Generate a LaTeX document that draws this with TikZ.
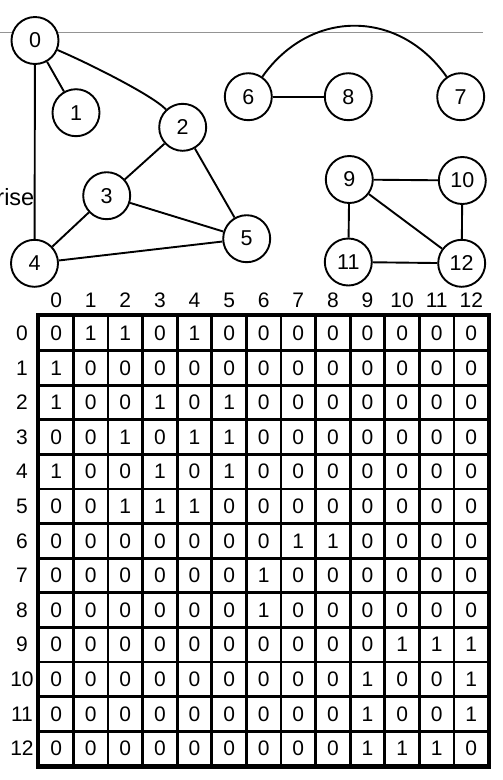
\documentclass[tikz,border=0pt]{standalone}
\usepackage{fontspec}
\setmainfont{Liberation Sans}
\begin{document}
\begin{tikzpicture}[x=1pt,y=-1pt,
  vertex/.style={circle,draw,line width=1.9pt,fill=white,minimum size=47pt,inner sep=0pt,font=\fontsize{21.5}{24}\selectfont},
  edge/.style={line width=1.9pt},
  cell/.style={draw,line width=2.7pt,minimum size=34.6pt,inner sep=0pt,font=\fontsize{21}{24}\selectfont},
  idx/.style={inner sep=0pt,font=\fontsize{21}{24}\selectfont},
  rule/.style={line width=1.1pt,color=black!42}]
\useasboundingbox (0,0) rectangle (503,780);
\fill[white] (0,0) rectangle (503,780);

% thin rule across the top
\coordinate (rulestart) at (0,32.3);
\coordinate (ruleend) at (482.7,32.3);
\draw[rule] (rulestart) -- (ruleend);

% leftover word at the left margin
\node[anchor=base east,inner sep=0pt,font=\fontsize{23.5}{26}\selectfont] (word) at (34.5,205.5) {rise};

% first component
\node[vertex] (n0) at (35,40.5) {0};
\node[vertex] (n1) at (76,112.7) {1};
\node[vertex] (n2) at (182.7,127.3) {2};
\node[vertex] (n3) at (106.7,195.7) {3};
\node[vertex] (n4) at (34.5,263.3) {4};
\node[vertex] (n5) at (246.7,238.7) {5};
% second component
\node[vertex] (n6) at (248.3,96.7) {6};
\node[vertex] (n8) at (348.3,96.7) {8};
\node[vertex] (n7) at (460.7,96.7) {7};
% third component
\node[vertex] (n9) at (349.3,179.5) {9};
\node[vertex] (n10) at (462.3,180.5) {10};
\node[vertex] (n11) at (348.3,262) {11};
\node[vertex] (n12) at (461.7,263.3) {12};

\draw[edge] (n0) -- (n1);
\draw[edge] (n0) -- (n4);
\draw[edge] (n0) .. controls +(52,22) and +(-30,-32) .. (n2);
\draw[edge] (n2) -- (n3);
\draw[edge] (n2) -- (n5);
\draw[edge] (n3) -- (n4);
\draw[edge] (n3) -- (n5);
\draw[edge] (n4) -- (n5);
\draw[edge] (n6) -- (n8);
\draw[edge] (n6) .. controls +(62,-88) and +(-62,-88) .. (n7);
\draw[edge] (n9) -- (n10);
\draw[edge] (n9) -- (n11);
\draw[edge] (n9) -- (n12);
\draw[edge] (n10) -- (n12);
\draw[edge] (n11) -- (n12);

% adjacency matrix
\foreach \c in {0,...,12}
  \node[idx] (h-\c) at ({38.8+34.6*(\c+0.5)},300.5) {\c};
\foreach \r/\vals in {
  0/{0,1,1,0,1,0,0,0,0,0,0,0,0},
  1/{1,0,0,0,0,0,0,0,0,0,0,0,0},
  2/{1,0,0,1,0,1,0,0,0,0,0,0,0},
  3/{0,0,1,0,1,1,0,0,0,0,0,0,0},
  4/{1,0,0,1,0,1,0,0,0,0,0,0,0},
  5/{0,0,1,1,1,0,0,0,0,0,0,0,0},
  6/{0,0,0,0,0,0,0,1,1,0,0,0,0},
  7/{0,0,0,0,0,0,1,0,0,0,0,0,0},
  8/{0,0,0,0,0,0,1,0,0,0,0,0,0},
  9/{0,0,0,0,0,0,0,0,0,0,1,1,1},
  10/{0,0,0,0,0,0,0,0,0,1,0,0,1},
  11/{0,0,0,0,0,0,0,0,0,1,0,0,1},
  12/{0,0,0,0,0,0,0,0,0,1,1,1,0}} {
  \node[idx] (r-\r) at (22,{316+34.6*(\r+0.5)}) {\r};
  \foreach \v [count=\c from 0] in \vals
    \node[cell] (c-\r-\c) at ({38.8+34.6*(\c+0.5)},{316+34.6*(\r+0.5)}) {\v};
}
\draw[line width=3pt] (c-0-0.north west) rectangle (c-12-12.south east);
\end{tikzpicture}
\end{document}
